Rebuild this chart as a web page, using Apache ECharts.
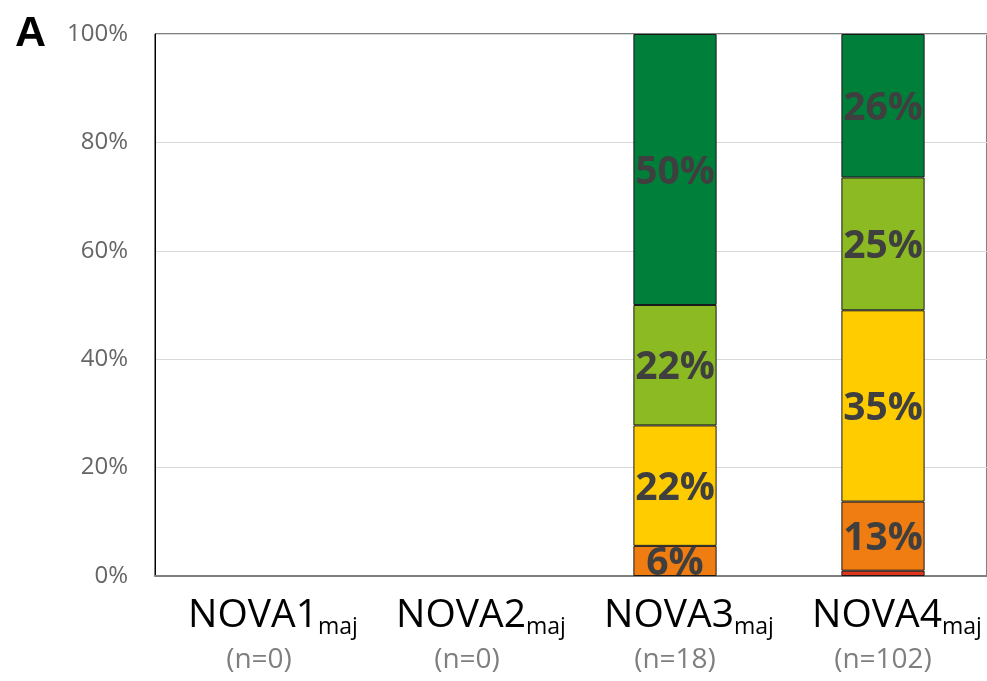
<!DOCTYPE html>
<html>
<head>
<meta charset="utf-8">
<script src="https://cdn.jsdelivr.net/npm/echarts@6/dist/echarts.min.js"></script>
<style>html,body{margin:0;padding:0;background:#fff}#c{width:987px;height:681px}</style>
</head>
<body>
<div id="c"></div>
<script>
const categories = ['NOVA1', 'NOVA2', 'NOVA3', 'NOVA4'];
const subscript = 'maj';
const counts = [0, 0, 18, 102];
const yTicks = [0, 20, 40, 60, 80, 100];
// percentages per category (stack order bottom to top)
const redVals = [0, 0, 0, 0.98];
const orangeVals = [0, 0, 5.56, 12.75];
const yellowVals = [0, 0, 22.22, 35.29];
const lightGreenVals = [0, 0, 22.22, 24.51];
const darkGreenVals = [0, 0, 50.0, 26.47];

const seriesDefs = [
  { name: 'red', data: redVals, color: '#E2361C' },
  { name: 'orange', data: orangeVals, color: '#EF7D11' },
  { name: 'yellow', data: yellowVals, color: '#FFCC00' },
  { name: 'lightgreen', data: lightGreenVals, color: '#8BBA22' },
  { name: 'darkgreen', data: darkGreenVals, color: '#007F3B' }
];

const chart = echarts.init(document.getElementById('c'), null, { renderer: 'canvas' });
chart.setOption({
  animation: false,
  title: {
    text: 'A', left: 10, top: 8,
    textStyle: { fontFamily: 'Liberation Sans', fontWeight: 'bold', fontSize: 43, color: '#000' }
  },
  grid: { left: 155, top: 34, right: -1, bottom: 105, show: true, borderColor: '#000', borderWidth: 1 },
  xAxis: {
    type: 'category',
    data: categories,
    axisTick: { show: false },
    axisLine: { lineStyle: { color: '#7f7f7f', width: 2 } },
    axisLabel: {
      margin: 17,
      interval: 0,
      formatter: function (v, i) { return '{main|' + v + '}{sub|' + subscript + '}\n{n|(n=' + counts[i] + ')}'; },
      rich: {
        main: { fontFamily: 'Open Sans', fontSize: 39, color: '#000', lineHeight: 46, padding: [0, 0, 0, 28] },
        sub: { fontFamily: 'Open Sans', fontSize: 23, color: '#000', lineHeight: 16, verticalAlign: 'bottom' },
        n: { fontFamily: 'Open Sans', fontSize: 28, color: '#7f7f7f', lineHeight: 42 }
      }
    }
  },
  yAxis: {
    type: 'value', min: yTicks[0], max: yTicks[yTicks.length - 1], interval: 20,
    axisLine: { show: true, lineStyle: { color: '#000', width: 1 } },
    axisTick: { show: false },
    splitLine: { lineStyle: { color: '#d9d9d9', width: 1 } },
    axisLabel: { formatter: '{value}%', fontFamily: 'Open Sans', fontSize: 24, color: '#666', margin: 27 }
  },
  series: seriesDefs.map(function (s) {
    return {
      name: s.name, type: 'bar', stack: 'total', barWidth: '40%',
      data: s.data.map(function (v) { return v === 0 ? null : v; }),
      itemStyle: { color: s.color, borderColor: '#1a1a1a', borderWidth: 1 },
      label: {
        show: true, position: 'inside', offset: [0, 3],
        fontFamily: 'Open Sans', fontWeight: 'bold', fontSize: 39, color: '#3f3f3f',
        formatter: function (p) { return p.value >= 3 ? Math.round(p.value) + '%' : ''; }
      }
    };
  })
});
</script>
</body>
</html>
